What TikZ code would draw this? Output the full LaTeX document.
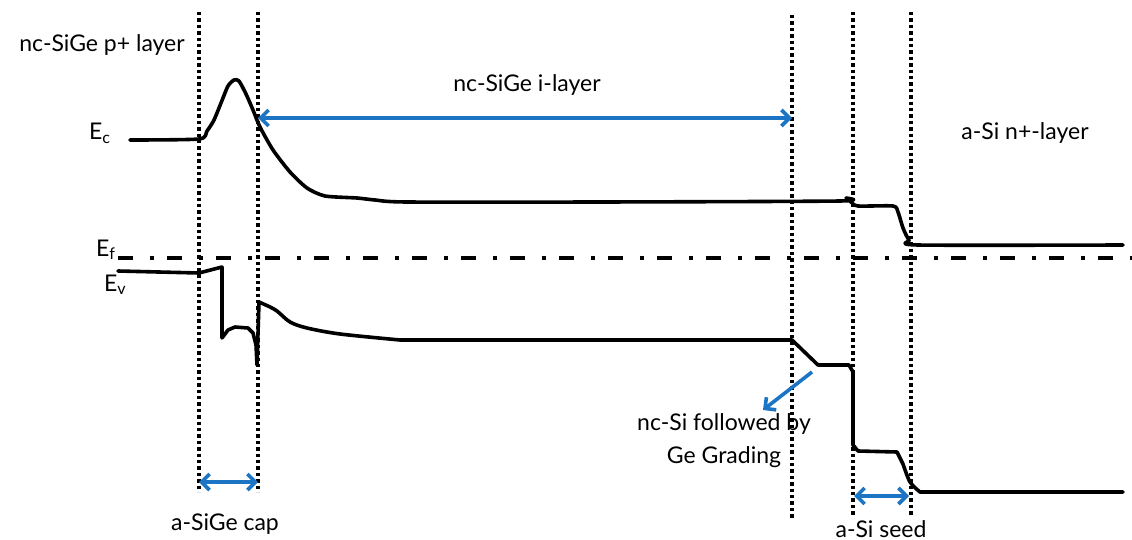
\documentclass[tikz,border=0pt]{standalone}
\usepackage{fontspec}
\setmainfont{Lato}
\usepackage{xcolor}
\definecolor{arrowblue}{RGB}{27,117,196}
\usetikzlibrary{arrows.meta, positioning}

\begin{document}
\begin{tikzpicture}[x=1pt, y=-1pt,
        band/.style={line width=3.6pt, line join=round, line cap=round},
        dotline/.style={line width=3.4pt, dash pattern=on 3.4pt off 3pt},
        fermi/.style={line width=3.8pt, dash pattern=on 15pt off 17pt on 4pt off 13pt},
        dimline/.style={draw=arrowblue, line width=3.6pt, {Straight Barb[length=8pt,width=16pt]}-{Straight Barb[length=8pt,width=16pt]}},
        ptline/.style={draw=arrowblue, line width=3.6pt, -{Straight Barb[length=8pt,width=16pt]}},
        lbl/.style={font=\fontsize{23}{33}\selectfont, inner sep=0pt, anchor=base}]
        \useasboundingbox (0,0) rectangle (1132,540);

        % Capas (lineas punteadas)
        \foreach \x/\top/\bot in {199/12/492, 258/12/492, 792/15/520, 853/12/517, 911/12/517}
            \draw[dotline] (\x,\top) -- (\x,\bot);

        % Nivel de Fermi
        \draw[fermi] (118,258) -- (1132,258);

        % Banda de conduccion
        \draw[band] plot[smooth, tension=0.4] coordinates {(130,140) (199,139) (207,131) (214,120) (221,103) (228,86) (234,80) (239,81) (246,94) (253,110) (260,127) (273,150) (290,172) (307,188) (325,196) (357,198) (375,200) (407,202) (600,202) (840,201) (846,198) (851,202) (858,206) (893,206) (898,212) (903,228) (909,240) (918,245) (1123,245)};

        % Banda de valencia
        \draw[band] (118,271) -- (199,273) -- (222,267) -- (222,338) -- (228,330) -- (235,327) -- (248,328) -- (253,333) -- (256,345) -- (257,365) -- (259,302)
            -- plot[smooth, tension=0.5] coordinates {(268,306) (277,311) (290,322) (307,328) (340,334) (400,340)}
            -- (792,340) -- (818,365) -- (849,365) -- (853,372) -- (853,445) -- (858,451) -- (897,452)
            -- plot[smooth, tension=0.5] coordinates {(903,464) (910,482) (920,492)} -- (1123,492);

        % Etiquetas
        \node[lbl] (pplus) at (102,52) {nc-SiGe p+ layer};
        \node[lbl] (ilayer) at (527,92) {nc-SiGe i-layer};
        \node[lbl] (nplus) at (1025,140) {a-Si n+-layer};
        \node[lbl, anchor=base west] (ec) at (89,140) {E\textsubscript{c}};
        \node[lbl, anchor=base west] (ef) at (96,256) {E\textsubscript{f}};
        \node[lbl, anchor=base west] (ev) at (104,291) {E\textsubscript{v}};
        \node[lbl, anchor=center, align=center] (grading) at (724,441) {nc-Si followed by\\Ge Grading};
        \node[lbl] (cap) at (225,530) {a-SiGe cap};
        \node[lbl] (seed) at (881,537) {a-Si seed};

        % Flechas
        \coordinate (iL) at (258,118);
        \coordinate (iR) at (792,118);
        \coordinate (capL) at (199,482);
        \coordinate (capR) at (258,482);
        \coordinate (seedL) at (854,496);
        \coordinate (seedR) at (909,496);
        \coordinate (gradTail) at (812,372);
        \coordinate (gradHead) at (763,410);
        \path [dimline] (iL) -- (iR);
        \path [dimline] (capL) -- (capR);
        \path [dimline] (seedL) -- (seedR);
        \path [ptline] (gradTail) -- (gradHead);
    \end{tikzpicture}
\end{document}
